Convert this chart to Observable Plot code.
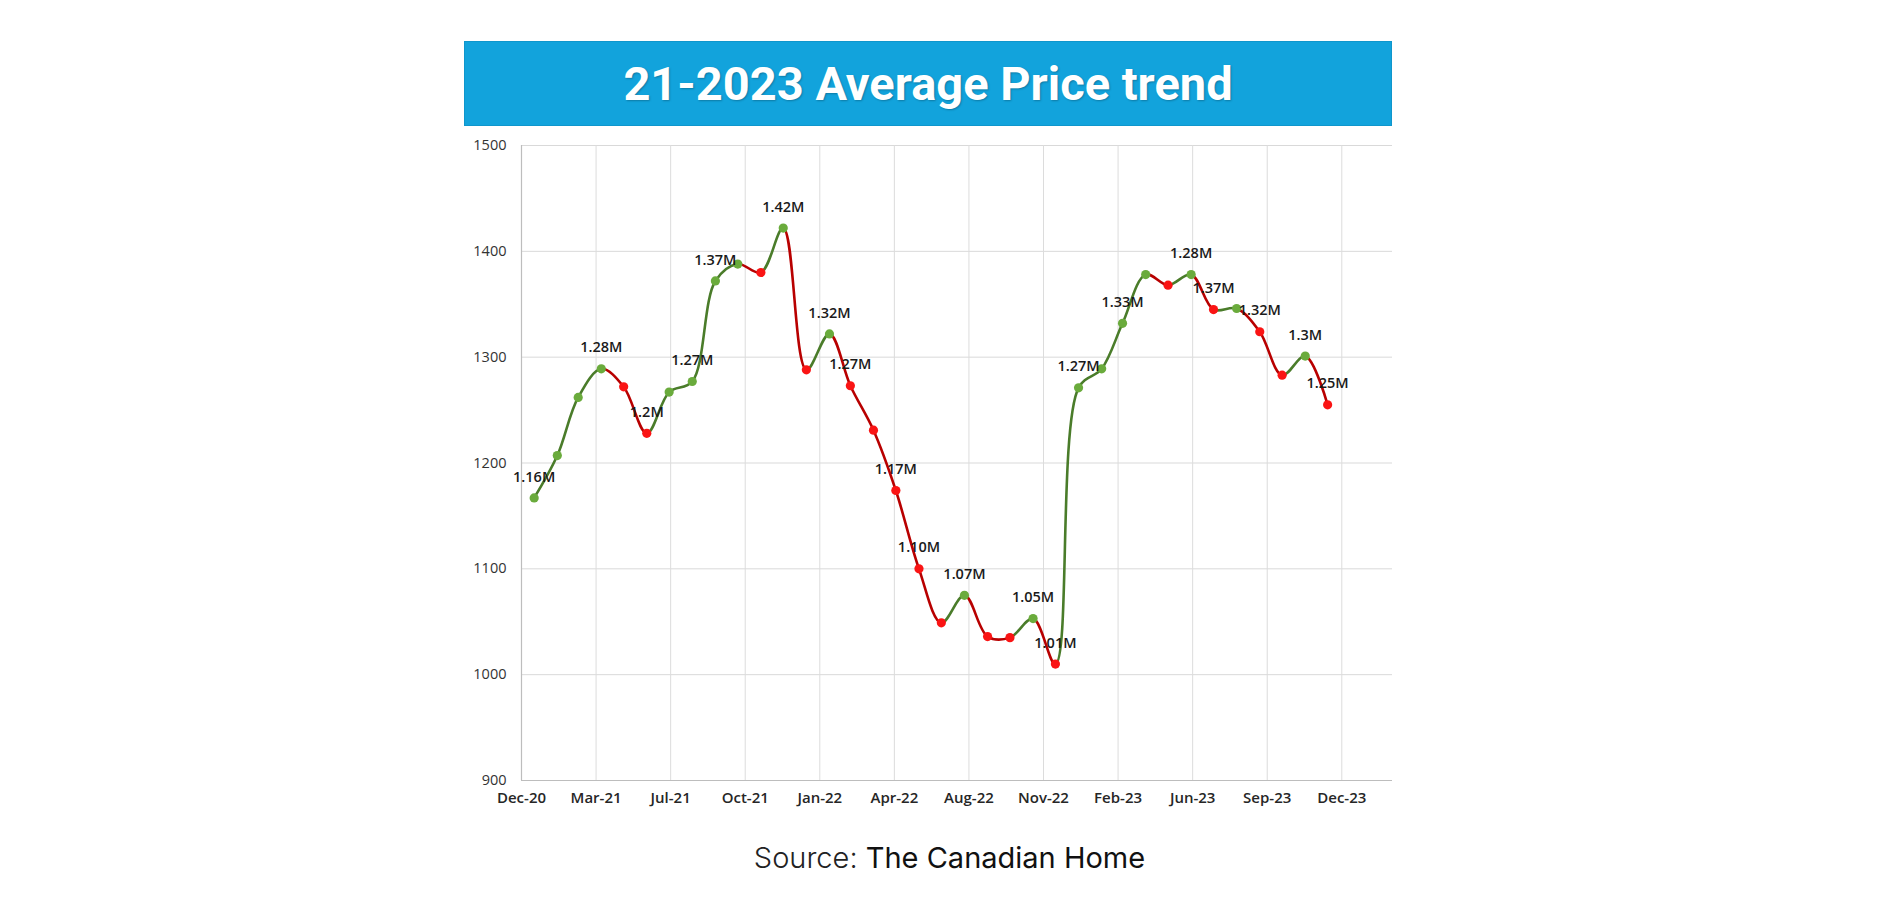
<!DOCTYPE html>
<html>
<head>
<meta charset="utf-8">
<script src="https://cdn.jsdelivr.net/npm/d3@7"></script>
<script src="https://cdn.jsdelivr.net/npm/@observablehq/plot@0.6"></script>
<style>
  html, body { margin: 0; padding: 0; background: #ffffff; }
  #page { position: relative; width: 1899px; height: 900px; overflow: hidden; background: #ffffff; }
  #banner {
    position: absolute; left: 464px; top: 41px; width: 928px; height: 85px;
    background: #12a3dc; box-sizing: border-box; border: 1px solid #0f96cc;
    display: flex; align-items: center; justify-content: center;
    font-family: Roboto, "Liberation Sans", sans-serif; font-weight: 700; font-size: 47px;
    color: #ffffff; text-shadow: 1px 1px 2px rgba(0, 0, 0, 0.25); letter-spacing: 0px;
  }
  #chart { position: absolute; left: 0; top: 130px; }
  #source {
    position: absolute; left: 0; width: 1899px; top: 840px; text-align: center;
    font-family: Inter, "Noto Sans", sans-serif; font-size: 29px; line-height: 36px; color: #111111;
  }
  #source .lead { font-weight: 300; color: #222222; }
  #source .name { font-weight: 400; }
</style>
</head>
<body>
<div id="page">
  <div id="banner">21-2023 Average Price trend</div>
  <div id="chart"></div>
  <div id="source"><span class="lead">Source:</span> <span class="name">The Canadian Home</span></div>
</div>
<script>
// Monthly average price, in thousands of dollars
const months = [
  "2021-01", "2021-02", "2021-03", "2021-04", "2021-05", "2021-06",
  "2021-07", "2021-08", "2021-09", "2021-10", "2021-11", "2021-12",
  "2022-01", "2022-02", "2022-03", "2022-04", "2022-05", "2022-06",
  "2022-07", "2022-08", "2022-09", "2022-10", "2022-11", "2022-12",
  "2023-01", "2023-02", "2023-03", "2023-04", "2023-05", "2023-06",
  "2023-07", "2023-08", "2023-09", "2023-10", "2023-11", "2023-12"
];
const prices = [
  1167, 1207, 1262, 1289, 1272, 1228,
  1267, 1277, 1372, 1388, 1380, 1422,
  1288, 1322, 1273, 1231, 1174, 1100,
  1049, 1075, 1036, 1035, 1053, 1010,
  1271, 1289, 1332, 1378, 1368, 1378,
  1345, 1346, 1324, 1283, 1301, 1255
];

// Point annotations: index into the monthly series and the text shown above it
const labelIndex = [0, 3, 5, 7, 8, 11, 13, 14, 16, 17, 19, 22, 23, 24, 26, 29, 30, 32, 34, 35];
const labelText = [
  "1.16M", "1.28M", "1.2M", "1.27M", "1.37M", "1.42M", "1.32M", "1.27M", "1.17M", "1.10M",
  "1.07M", "1.05M", "1.01M", "1.27M", "1.33M", "1.28M", "1.37M", "1.32M", "1.3M", "1.25M"
];

// Axis ticks: the date axis steps in 100-day units from its start
const xTickLabels = ["Dec-20", "Mar-21", "Jul-21", "Oct-21", "Jan-22", "Apr-22",
                     "Aug-22", "Nov-22", "Feb-23", "Jun-23", "Sep-23", "Dec-23"];
const xTickStepDays = 100;
const yTicks = [900, 1000, 1100, 1200, 1300, 1400, 1500];

const DAY = 864e5;
const axisStart = new Date(Date.UTC(2020, 11, 15));
const axisEnd = new Date(+axisStart + 1168 * DAY);

const upLine = "#4a7c2a", downLine = "#b80000";
const upDot = "#6aab3c", downDot = "#fa1414";

const rows = months.map((m, i) => ({
  date: new Date(m + "-01T00:00:00Z"),
  value: prices[i],
  dir: i === 0 || prices[i] >= prices[i - 1] ? "up" : "down"
}));
const labelRows = labelIndex.map((k, j) => ({...rows[k], text: labelText[j]}));

const tickDates = xTickLabels.map((_, i) => new Date(+axisStart + i * xTickStepDays * DAY));
const tickLabelByTime = new Map(tickDates.map((d, i) => [+d, xTickLabels[i]]));

const chart = Plot.plot({
  width: 1899,
  height: 700,
  marginTop: 15,
  marginBottom: 50,
  marginLeft: 521,
  marginRight: 507,
  style: {background: "transparent", overflow: "visible"},
  x: {type: "utc", domain: [axisStart, axisEnd]},
  y: {domain: [900, 1500]},
  color: {domain: ["up", "down"], range: [upDot, downDot]},
  marks: [
    Plot.gridY(yTicks, {stroke: "#d9d9d9", strokeOpacity: 1, strokeWidth: 1}),
    Plot.gridX(tickDates, {stroke: "#dcdcdc", strokeOpacity: 1, strokeWidth: 1}),
    Plot.ruleX([axisStart], {stroke: "#bdbdbd", strokeWidth: 1.2}),
    Plot.ruleY([900], {stroke: "#bdbdbd", strokeWidth: 1.2}),
    Plot.axisY(yTicks, {
      tickSize: 0, tickPadding: 15, label: null,
      tickFormat: d => String(d),
      fontFamily: "'Open Sans', sans-serif", fontSize: 14.5, color: "#333333"
    }),
    Plot.axisX(tickDates, {
      tickSize: 0, tickPadding: 12, label: null,
      tickFormat: d => tickLabelByTime.get(+d),
      fontFamily: "'Open Sans', sans-serif", fontSize: 15, fontWeight: 600, color: "#262626"
    }),
    Plot.line(rows, {
      x: "date", y: "value", curve: "catmull-rom",
      stroke: "url(#trendStroke)", strokeWidth: 2.6
    }),
    Plot.dot(rows, {x: "date", y: "value", r: 4.6, fill: "dir", stroke: "none"}),
    Plot.text(labelRows, {
      x: "date", y: "value", text: "text", dy: -21,
      fontFamily: "'Open Sans', sans-serif", fontSize: 14.5, fontWeight: 600, fill: "#1a1a1a"
    })
  ]
});

// Colour each stretch of the smoothed line by whether the price rose or fell into the month
const xs = chart.scale("x");
const px = rows.map(d => xs.apply(d.date));
const x0 = px[0], span = px[px.length - 1] - px[0];
const grad = d3.select(chart).insert("defs", ":first-child")
  .append("linearGradient")
  .attr("id", "trendStroke")
  .attr("gradientUnits", "userSpaceOnUse")
  .attr("x1", x0).attr("x2", x0 + span)
  .attr("y1", 0).attr("y2", 0);
for (let i = 1; i < rows.length; ++i) {
  const c = rows[i].dir === "up" ? upLine : downLine;
  grad.append("stop").attr("offset", (px[i - 1] - x0) / span).attr("stop-color", c);
  grad.append("stop").attr("offset", (px[i] - x0) / span).attr("stop-color", c);
}

document.getElementById("chart").append(chart);
</script>
</body>
</html>
